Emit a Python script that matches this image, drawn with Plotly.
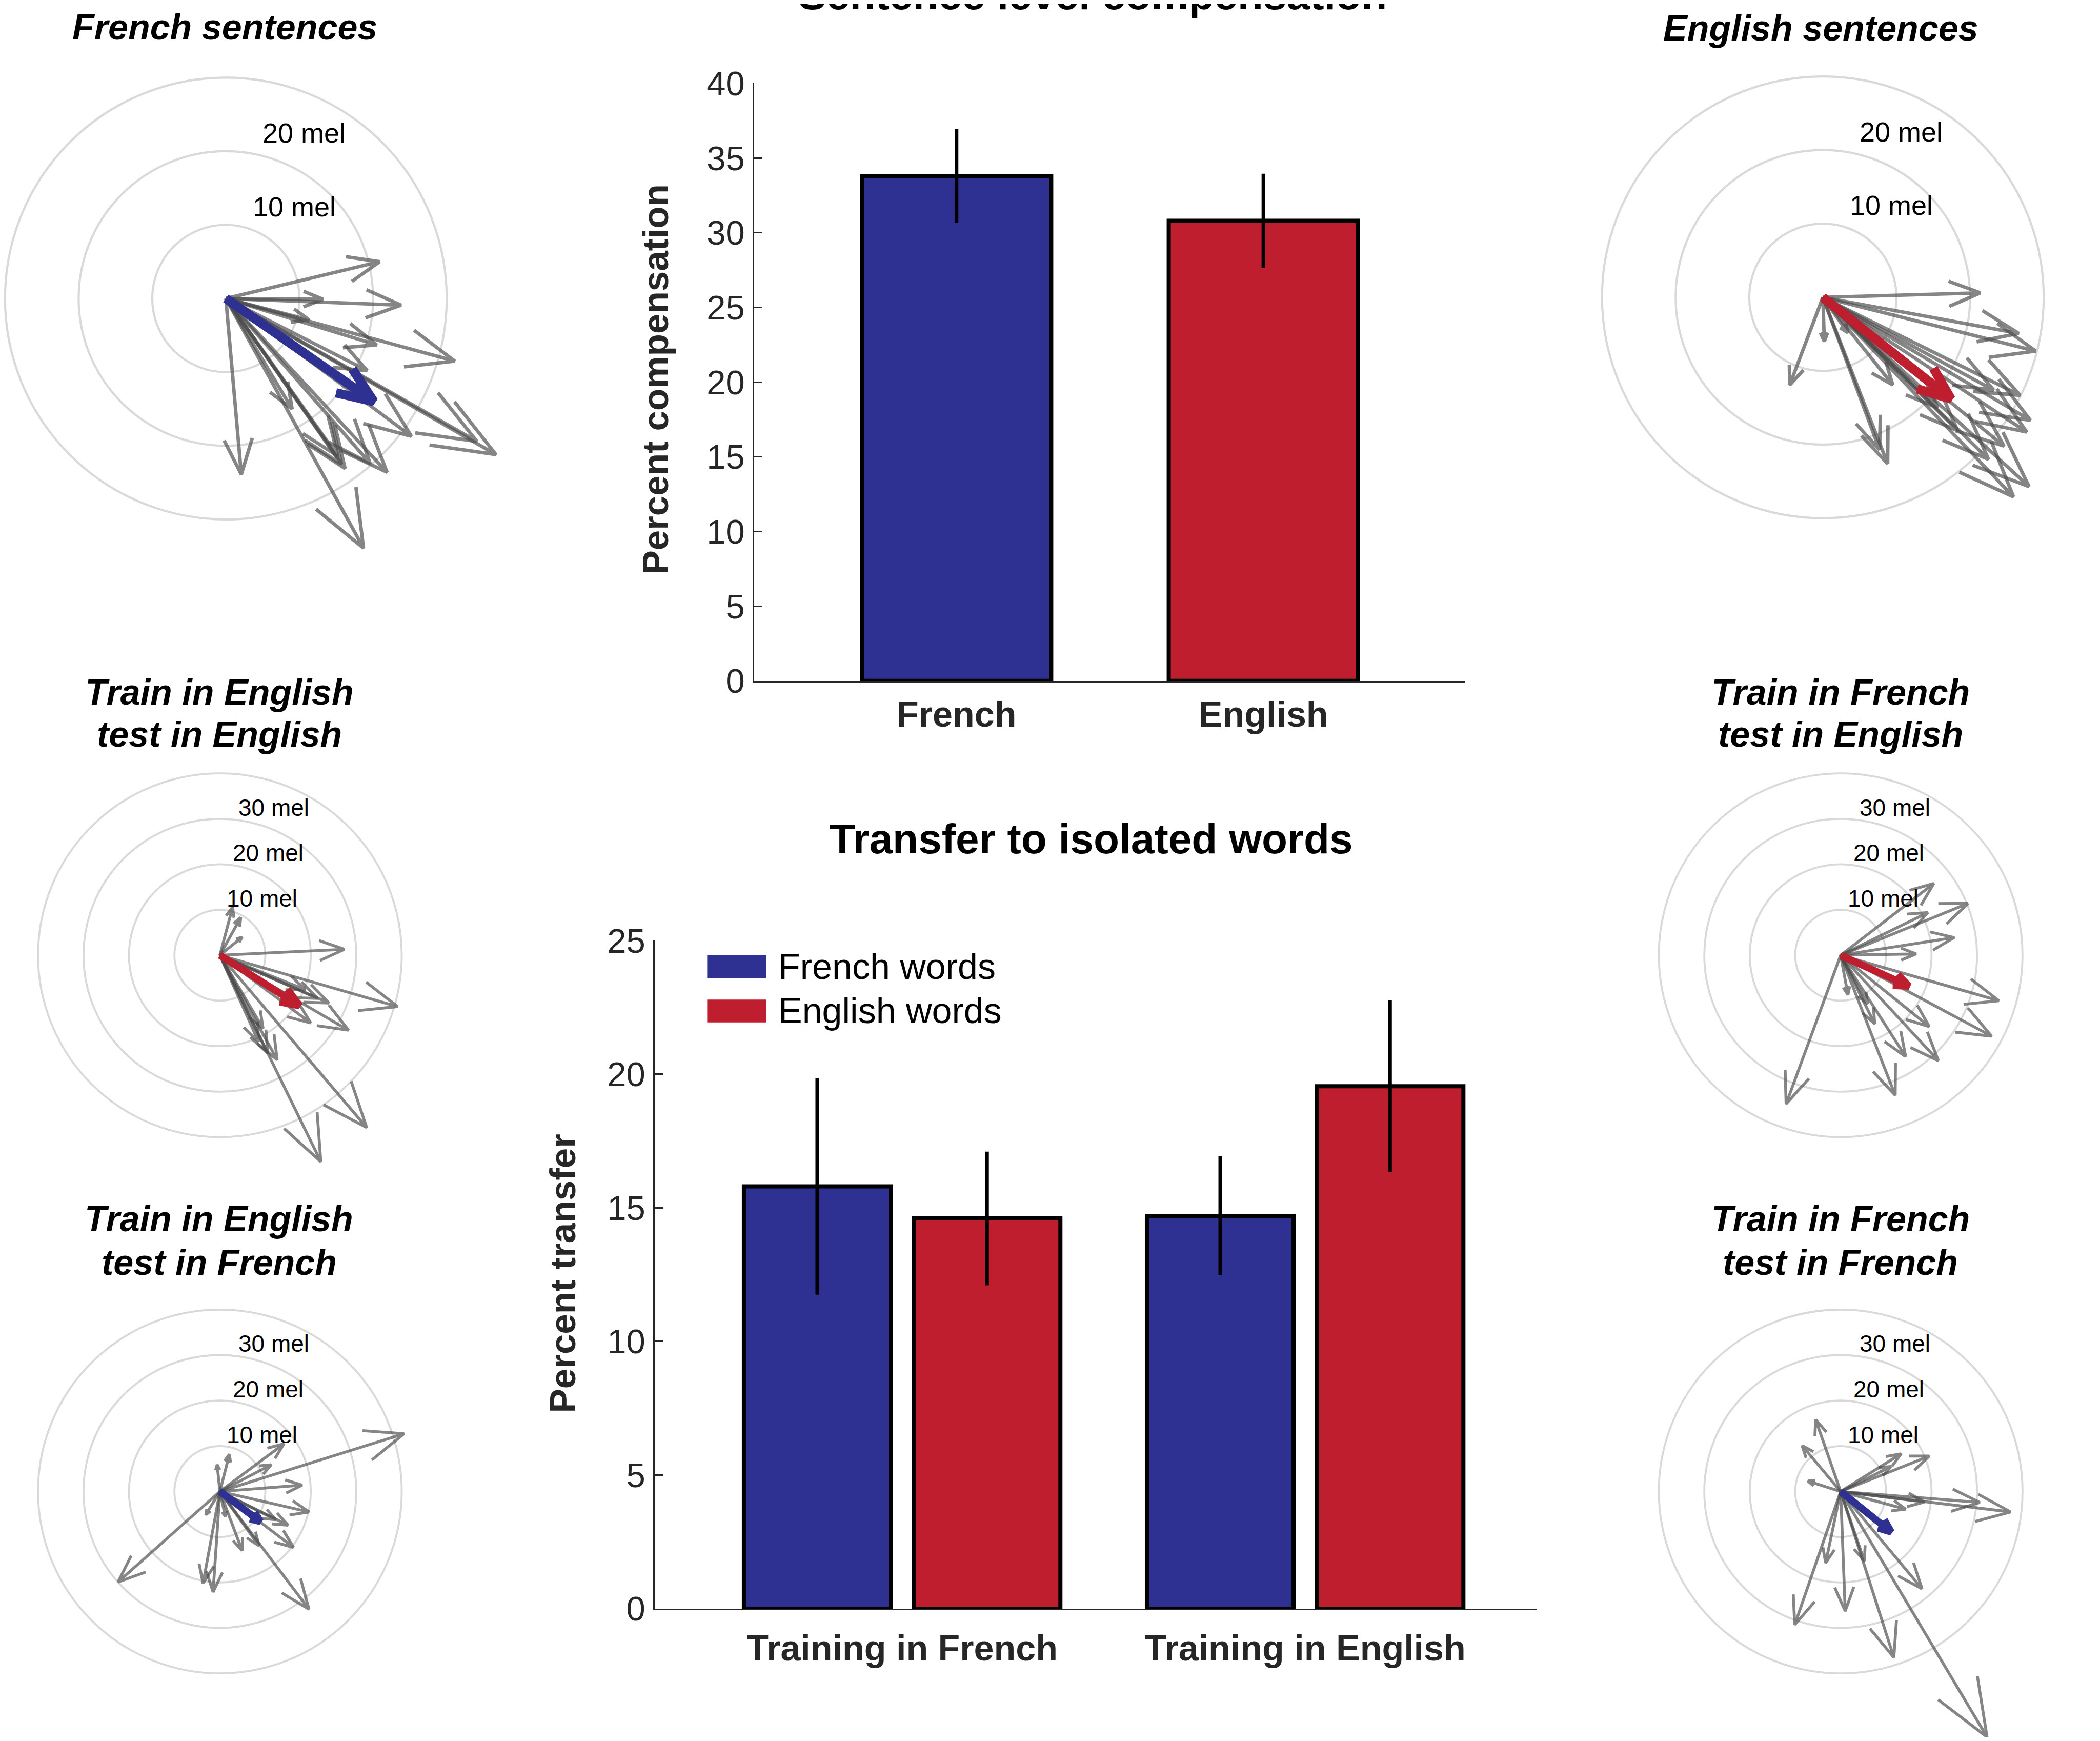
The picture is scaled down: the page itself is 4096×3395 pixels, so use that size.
import numpy as np
import plotly.graph_objects as go

# page body has an 8px margin: the figure is sized so that it fits the window exactly
OFF = 8
W, H = 4096 - 2 * OFF, 3395 - 2 * OFF
S = 0.742  # reference px -> output px

BLUE = '#2E3192'
RED = '#BE1E2D'
AX = '#262626'
GRAY = 'rgba(75,75,75,0.68)'
RING = '#D9D9D9'
FONT = 'Liberation Sans, Arial, Helvetica, sans-serif'

# ---------------- data: sentence-level compensation ----------------
sent_langs = ['French', 'English']
sent_comp = [33.8, 30.8]
sent_err = [3.15, 3.15]

# ---------------- data: transfer to isolated words ----------------
train_groups = ['Training in French', 'Training in English']
series_names = ['French words', 'English words']
french_words = [15.8, 14.7]
french_words_err = [4.05, 2.23]
english_words = [14.6, 19.55]
english_words_err = [2.5, 3.22]

# ---------------- data: compensation vectors (mel, F1/F2 plane) ----------------
fr_sent_dx = [20.9, 23.8, 13.2, 11.3, 31.1, 20.5, 19.2, 25.2, 34.1, 36.7, 21.9, 19.6, 16.2, 15.2, 9.0, 2.1, 18.7, 15.7]
fr_sent_dy = [5.0, -0.9, -0.1, -2.9, -8.5, -6.3, -9.8, -18.7, -19.4, -21.2, -23.6, -22.4, -23.1, -21.4, -15.0, -23.9, -33.9, -22.5]
fr_sent_mean = [20.1, -14.0]

en_sent_dx = [21.4, 26.6, 28.9, 0.2, -4.5, 3.4, 8.8, 7.7, 9.5, 28.2, 27.7, 28.0, 25.9, 24.6, 26.8, 23.2, 15.6, 18.3, 22.5]
en_sent_dy = [0.6, -4.9, -7.3, -6.0, -11.9, -4.8, -22.6, -20.7, -11.9, -16.7, -18.3, -25.7, -27.1, -20.2, -13.3, -12.6, -15.0, -18.1, -22.0]
en_sent_mean = [17.4, -13.8]

te_en_dx = [27.4, 39.1, 28.3, 20.0, 21.5, 18.8, 32.3, 22.2, 12.6, 10.5, 9.5, 2.8, 4.6, 4.9, 24.0, 8.5]
te_en_dy = [1.3, -11.3, -16.5, -14.9, -9.5, -7.6, -37.9, -45.4, -23.0, -21.5, -16.1, 10.6, 8.3, 4.0, -10.5, -19.0]
te_en_mean = [17.5, -11.1]

te_fr_dx = [40.5, 14.1, 11.3, 2.1, -0.6, 18.1, 19.6, 15.0, 16.2, 19.6, 8.6, 4.9, -1.5, -3.7, -22.4, -3.1, 1.2, 12.3]
te_fr_dy = [12.7, 10.5, 5.9, 8.2, 5.9, 1.4, -4.5, -7.4, -12.3, -25.9, -11.9, -13.0, -22.1, -20.2, -19.9, -5.1, -5.5, -6.2]
te_fr_mean = [8.9, -6.6]

tf_en_dx = [20.5, 28.0, 25.0, 16.6, 19.2, 34.8, 33.2, 19.5, 21.5, 14.3, 12.0, -12.0, 7.5, 1.6, 5.9]
tf_en_dy = [15.8, 11.4, 3.9, 0.3, 9.4, -10.0, -17.8, -15.7, -23.2, -22.3, -30.8, -32.7, -15.1, -8.7, -10.7]
tf_en_mean = [15.0, -6.8]

tf_fr_dx = [-5.5, -8.5, -7.2, 13.3, 19.5, 11.1, 37.4, 30.6, 18.5, 14.3, 17.9, 11.7, 5.2, 1.0, -3.3, -10.1, 32.2]
tf_fr_dy = [15.8, 10.1, 2.3, 8.3, 7.8, 5.5, -4.5, -2.4, -2.3, -3.9, -21.4, -36.5, -15.3, -26.3, -15.7, -29.3, -54.0]
tf_fr_mean = [11.1, -8.9]

rings_sent = [10, 20, 30]
rings_words = [10, 20, 30, 40]

# ---------------- panel layout (reference px) ----------------
panels = [
    dict(title=['French sentences'], tpos=[(591.5, 72)], dx=fr_sent_dx, dy=fr_sent_dy, mean=fr_sent_mean,
         color=BLUE, rings=rings_sent, c=(593.7, 784.5), ppm=19.35, lab=54, gw=6.8, mw=18, rw=4.2),
    dict(title=['English sentences'], tpos=[(4787, 74)], dx=en_sent_dx, dy=en_sent_dy, mean=en_sent_mean,
         color=RED, rings=rings_sent, c=(4791.7, 781.4), ppm=19.35, lab=54, gw=6.8, mw=18, rw=4.2),
    dict(title=['Train in English', 'test in English'], tpos=[(577, 1819), (577, 1930)], dx=te_en_dx, dy=te_en_dy,
         mean=te_en_mean, color=RED, rings=rings_words, c=(578, 2510.5), ppm=11.95, lab=46, gw=5.6, mw=14, rw=3.8),
    dict(title=['Train in English', 'test in French'], tpos=[(576, 3204), (576, 3318)], dx=te_fr_dx, dy=te_fr_dy,
         mean=te_fr_mean, color=BLUE, rings=rings_words, c=(578, 3919.8), ppm=11.95, lab=46, gw=5.6, mw=14, rw=3.8),
    dict(title=['Train in French', 'test in English'], tpos=[(4838, 1819), (4838, 1930)], dx=tf_en_dx, dy=tf_en_dy,
         mean=tf_en_mean, color=RED, rings=rings_words, c=(4838.5, 2510.5), ppm=11.95, lab=46, gw=5.6, mw=14, rw=3.8),
    dict(title=['Train in French', 'test in French'], tpos=[(4838, 3204), (4838, 3318)], dx=tf_fr_dx, dy=tf_fr_dy,
         mean=tf_fr_mean, color=BLUE, rings=rings_words, c=(4838.5, 3919.8), ppm=11.95, lab=46, gw=5.6, mw=14, rw=3.8),
]


def compass(u, v):
    z = complex(u, v)
    pts = [0, z, z * (0.8 + 0.08j), z, z * (0.8 - 0.08j)]
    return [p.real for p in pts], [p.imag for p in pts]


def px_x(x):
    """window pixel -> paper x"""
    return (x - OFF) / W


def px_y(y):
    """window pixel -> paper y"""
    return 1 - (y - OFF) / H


fig = go.Figure()
annotations = []
shapes = []
layout = {}

# ---------------- top bar chart ----------------
xs1 = np.arange(1, len(sent_langs) + 1)
fig.add_trace(go.Bar(
    x=xs1, y=sent_comp, width=0.617,
    marker=dict(color=[BLUE, RED], line=dict(color='black', width=8)),
    error_y=dict(type='data', array=sent_err, color='black', thickness=7, width=0),
    xaxis='x', yaxis='y', hoverinfo='skip', showlegend=False))

axis_common = dict(showgrid=False, zeroline=False, showline=True, linecolor=AX, linewidth=3,
                   fixedrange=True, automargin=False)
layout['xaxis'] = dict(domain=[px_x(1982.7 * S), px_x(3850 * S)], range=[0.3406, 2.6559], anchor='y',
                       tickvals=list(xs1), ticktext=['<b>%s</b>' % s for s in sent_langs],
                       tickfont=dict(size=70, color=AX, family=FONT), ticks='', ticklabelstandoff=2,
                       **axis_common)
layout['yaxis'] = dict(domain=[px_y(1789.4 * S), px_y(219 * S)], range=[0, 40], anchor='x',
                       tickvals=list(range(0, 41, 5)), ticks='inside', ticklen=16, tickwidth=3, tickcolor=AX,
                       tickfont=dict(size=67, color=AX, family=FONT), ticklabelstandoff=2, **axis_common)

# ---------------- bottom grouped bar chart ----------------
xs2 = np.arange(1, len(train_groups) + 1)
bw = 0.364
half = 0.2107
for name, vals, errs, col, off in [(series_names[0], french_words, french_words_err, BLUE, -half - bw / 2),
                                   (series_names[1], english_words, english_words_err, RED, half - bw / 2)]:
    fig.add_trace(go.Bar(
        x=xs2, y=vals, width=bw, offset=off, name=name,
        marker=dict(color=col, line=dict(color='black', width=8)),
        error_y=dict(type='data', array=errs, color='black', thickness=7, width=0),
        xaxis='x2', yaxis='y2', hoverinfo='skip', showlegend=False))

layout['xaxis2'] = dict(domain=[px_x(1721.4 * S), px_x(4041 * S)], range=[0.3864, 2.576], anchor='y2',
                        tickvals=list(xs2), ticktext=['<b>%s</b>' % s for s in train_groups],
                        tickfont=dict(size=70, color=AX, family=FONT), ticks='', ticklabelstandoff=14,
                        **axis_common)
layout['yaxis2'] = dict(domain=[px_y(4227.6 * S), px_y(2472 * S)], range=[0, 25], anchor='x2',
                        tickvals=list(range(0, 26, 5)), ticks='inside', ticklen=16, tickwidth=3, tickcolor=AX,
                        tickfont=dict(size=67, color=AX, family=FONT), ticklabelstandoff=2, **axis_common)

# legend (manual swatches)
for i, (name, col) in enumerate(zip(series_names, [BLUE, RED])):
    yc = [2540, 2657][i]
    shapes.append(dict(type='rect', xref='paper', yref='paper',
                       x0=px_x(1859 * S), x1=px_x(2014 * S),
                       y0=px_y((yc + 30) * S), y1=px_y((yc - 30) * S),
                       fillcolor=col, line=dict(width=0)))
    annotations.append(dict(text=name, xref='paper', yref='paper', x=px_x(2043 * S), y=px_y(yc * S),
                            xanchor='left', yanchor='middle', showarrow=False,
                            font=dict(size=70, color='black', family=FONT)))

# titles and axis titles for bar charts
annotations.append(dict(text='<b>Sentence level compensation</b>', xref='paper', yref='paper',
                        x=px_x(2872 * S), y=px_y(36), xanchor='center', yanchor='bottom', borderpad=0,
                        showarrow=False, font=dict(size=82, color='black', family=FONT)))
annotations.append(dict(text='<b>Transfer to isolated words</b>', xref='paper', yref='paper',
                        x=px_x(2868 * S), y=px_y(2204 * S), xanchor='center', yanchor='middle',
                        showarrow=False, font=dict(size=82, color='black', family=FONT)))
annotations.append(dict(text='<b>Percent compensation</b>', xref='paper', yref='paper',
                        x=px_x(1722.5 * S), y=px_y(998 * S), xanchor='center', yanchor='middle',
                        textangle=-90, showarrow=False, font=dict(size=71, color=AX, family=FONT)))
annotations.append(dict(text='<b>Percent transfer</b>', xref='paper', yref='paper',
                        x=px_x(1478.6 * S), y=px_y(3347 * S), xanchor='center', yanchor='middle',
                        textangle=-90, showarrow=False, font=dict(size=71, color=AX, family=FONT)))

# ---------------- compass panels ----------------
EXT = 780
for k, p in enumerate(panels):
    n = k + 3
    xa, ya = 'x%d' % n, 'y%d' % n
    cx, cy = p['c'][0] * S, p['c'][1] * S
    ppm = p['ppm'] * S
    x0 = max(OFF, cx - EXT); x1 = min(OFF + W, cx + EXT)
    yt = max(OFF, cy - EXT); yb = min(OFF + H, cy + EXT)
    layout['xaxis%d' % n] = dict(domain=[px_x(x0), px_x(x1)], range=[(x0 - cx) / ppm, (x1 - cx) / ppm],
                                 anchor=ya, visible=False, fixedrange=True)
    layout['yaxis%d' % n] = dict(domain=[px_y(yb), px_y(yt)], range=[(cy - yb) / ppm, (cy - yt) / ppm],
                                 anchor=xa, visible=False, fixedrange=True)
    for r in p['rings']:
        shapes.append(dict(type='circle', xref=xa, yref=ya, x0=-r, x1=r, y0=-r, y1=r,
                           line=dict(color=RING, width=p['rw']), layer='below'))
    for r in p['rings'][:-1]:
        annotations.append(dict(text='%d mel' % r, xref=xa, yref=ya, x=8 + 0.13 * r, y=r + 2.5,
                                xanchor='center', yanchor='middle', showarrow=False,
                                font=dict(size=p['lab'], color='black', family=FONT)))
    for u, v in zip(p['dx'], p['dy']):
        ax_, ay_ = compass(u, v)
        fig.add_trace(go.Scatter(x=ax_, y=ay_, mode='lines', line=dict(color=GRAY, width=p['gw']),
                                 xaxis=xa, yaxis=ya, hoverinfo='skip', showlegend=False))
    mx, my = compass(*p['mean'])
    fig.add_trace(go.Scatter(x=mx, y=my, mode='lines', line=dict(color=p['color'], width=p['mw']),
                             xaxis=xa, yaxis=ya, hoverinfo='skip', showlegend=False))
    for line, (tx, ty) in zip(p['title'], p['tpos']):
        annotations.append(dict(text='<b><i>%s</i></b>' % line, xref='paper', yref='paper',
                                x=px_x(tx * S), y=px_y(ty * S), xanchor='center', yanchor='middle',
                                showarrow=False, font=dict(size=70, color='black', family=FONT)))

fig.update_layout(width=W, height=H,
                  margin=dict(l=0, r=0, t=0, b=0, pad=0, autoexpand=False),
                  paper_bgcolor='white', plot_bgcolor='rgba(0,0,0,0)',
                  barmode='overlay', showlegend=False, hovermode=False,
                  font=dict(family=FONT), annotations=annotations, shapes=shapes, **layout)

fig.write_html('out.html', config={'displayModeBar': False})
